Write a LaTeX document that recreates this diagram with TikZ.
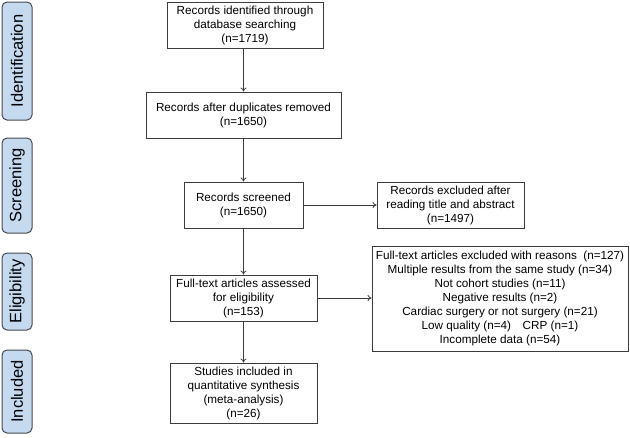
\documentclass[tikz,border=0pt]{standalone}
\usepackage{fontspec}
\setmainfont{Liberation Sans}
\usetikzlibrary{arrows.meta}
\definecolor{stagefill}{RGB}{197,217,239}
\definecolor{stageline}{RGB}{70,74,80}
\definecolor{boxline}{RGB}{60,60,60}
\tikzset{
  stage/.style={draw=stageline, line width=1pt, fill=stagefill, rounded corners=5pt,
    inner sep=0pt, rotate=90,
    font=\fontsize{16.5}{18}\selectfont},
  flowbox/.style={draw=boxline, line width=0.9pt, inner sep=0pt, align=center,
    font=\fontsize{11.7}{14}\selectfont},
  flowarrow/.style={draw=boxline, line width=0.8pt, -{To[length=4pt,width=6pt]}}
}
\begin{document}
\begin{tikzpicture}[x=1pt,y=-1pt]
\useasboundingbox (0,0) rectangle (630,437);
% stage labels (rotated: minimum height acts on the x extent, minimum width on y)
\node[stage, minimum width=118pt, minimum height=30pt] (s1) at (17,61) {Identification};
\node[stage, minimum width=95pt, minimum height=30pt] (s2) at (17,185.5) {Screening};
\node[stage, minimum width=77pt, minimum height=30pt] (s3) at (17,291.5) {Eligibility};
\node[stage, minimum width=83pt, minimum height=30pt] (s4) at (17,391.5) {Included};
% main column
\node[flowbox, minimum width=156pt, minimum height=46pt] (b1) at (245,25)
  {Records identified through\\database searching\\(n=1719)};
\node[flowbox, minimum width=195pt, minimum height=46pt] (b2) at (243.5,115)
  {Records after duplicates removed\\(n=1650)};
\node[flowbox, minimum width=119pt, minimum height=46pt] (b3) at (243.5,205)
  {Records screened\\(n=1650)};
\node[flowbox, minimum width=147pt, minimum height=46pt] (b4) at (243.5,298)
  {Full-text articles assessed\\for eligibility\\(n=153)};
\node[flowbox, minimum width=147pt, minimum height=60pt] (b5) at (243.5,393)
  {Studies included in\\quantitative synthesis\\(meta-analysis)\\(n=26)};
% right column
\node[flowbox, minimum width=147pt, minimum height=46pt] (ra) at (450.5,205)
  {Records excluded after\\reading title and abstract\\(n=1497)};
\node[flowbox, minimum width=256pt, minimum height=105pt] (rb) at (500,298.5)
  {Full-text articles excluded with reasons\ \ (n=127)\\
   Multiple results from the same study (n=34)\\
   Not cohort studies (n=11)\\
   Negative results (n=2)\\
   Cardiac surgery or not surgery (n=21)\\
   Low quality (n=4)\quad CRP (n=1)\\
   Incomplete data (n=54)};
% connectors
\draw[flowarrow] (b1.south -| b3.north) -- (b2.north -| b3.north);
\draw[flowarrow] (b2.south -| b3.north) -- (b3.north);
\draw[flowarrow] (b3.south) -- (b4.north);
\draw[flowarrow] (b4.south) -- (b5.north);
\draw[flowarrow] (b3.east) -- (ra.west);
\draw[flowarrow] (b4.east) -- (b4.east -| rb.west);
\end{tikzpicture}
\end{document}
